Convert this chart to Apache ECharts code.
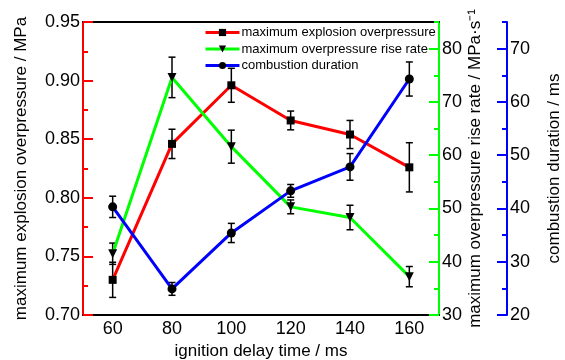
<!DOCTYPE html>
<html><head><meta charset="utf-8">
<script src="https://cdn.jsdelivr.net/npm/echarts@6/dist/echarts.min.js"></script>
<style>html,body{margin:0;padding:0;background:#fff}#c{width:565px;height:360px}</style>
</head><body><div id="c"></div>
<script>
const delays = ['60','80','100','120','140','160'];
const overpressure = [0.730, 0.846, 0.896, 0.866, 0.854, 0.826];
const overpressureErr = [0.015, 0.0125, 0.0145, 0.008, 0.012, 0.021];
const riseRate = [41.5, 74.6, 61.6, 50.3, 48.3, 37.2];
const riseRateErr = [2.0, 3.8, 3.1, 1.3, 2.3, 1.9];
const duration = [40.3, 24.9, 35.4, 43.3, 47.8, 64.3];
const durationErr = [2.0, 1.2, 1.8, 1.2, 2.5, 3.2];
const leftTicks = [0.70, 0.75, 0.80, 0.85, 0.90, 0.95];
const leftMinor = [0.725, 0.775, 0.825, 0.875, 0.925];
const rateTicks = [30, 40, 50, 60, 70, 80];
const rateMinor = [35, 45, 55, 65, 75, 85];
const durTicks = [20, 30, 40, 50, 60, 70];
const durMinor = [25, 35, 45, 55, 65, 75];

const FONT = "'Liberation Sans', Arial, sans-serif";
const RED = '#ff0000', GREEN = '#00ff00', BLUE = '#0000ff';

function errSeries(vals, errs, yIdx) {
  return {
    type: 'custom', yAxisIndex: yIdx, xAxisIndex: 0, z: 3, silent: true,
    data: vals.map((v, i) => [i, v - errs[i], v + errs[i]]),
    encode: { x: 0, y: [1, 2] },
    renderItem(params, api) {
      const lo = api.coord([api.value(0), api.value(1)]);
      const hi = api.coord([api.value(0), api.value(2)]);
      const w = 3.5;
      const st = { stroke: '#000', lineWidth: 1.5 };
      return { type: 'group', children: [
        { type: 'line', shape: { x1: lo[0], y1: lo[1], x2: hi[0], y2: hi[1] }, style: st },
        { type: 'line', shape: { x1: lo[0] - w, y1: lo[1], x2: lo[0] + w, y2: lo[1] }, style: st },
        { type: 'line', shape: { x1: hi[0] - w, y1: hi[1], x2: hi[0] + w, y2: hi[1] }, style: st }
      ]};
    }
  };
}

function mainY(color, min, max, ticks, pos, offset, name, nameGap, fmt) {
  return {
    type: 'value', position: pos, offset: offset, min: min, max: max,
    axisLine: { show: true, lineStyle: { color: color, width: 2 } },
    axisTick: { show: true, inside: true, length: 10, customValues: ticks, lineStyle: { color: color, width: 2 } },
    axisLabel: { show: true, customValues: ticks, color: '#000', fontSize: 18, fontFamily: FONT, margin: 3, formatter: fmt },
    splitLine: { show: false },
    name: name, nameLocation: 'middle', nameGap: nameGap, nameRotate: 90, nameMoveOverlap: false,
    nameTextStyle: { fontSize: 17, color: '#000', fontFamily: FONT }
  };
}
function minorY(color, min, max, ticks, pos, offset) {
  return {
    type: 'value', position: pos, offset: offset, min: min, max: max,
    axisLine: { show: false },
    axisTick: { show: true, inside: true, length: 5, customValues: ticks, lineStyle: { color: color, width: 2 } },
    axisLabel: { show: false },
    splitLine: { show: false }
  };
}

const chart = echarts.init(document.getElementById('c'));
chart.setOption({
  animation: false,
  backgroundColor: '#fff',
  textStyle: { fontFamily: FONT },
  grid: { left: 83, right: 126, top: 22, bottom: 45, containLabel: false, outerBoundsMode: 'none' },
  legend: {
    orient: 'vertical', left: 204, top: 26, padding: 0,
    itemWidth: 34, itemHeight: 9, itemGap: 3.5,
    lineStyle: { width: 3 },
    textStyle: { fontSize: 13, color: '#000', fontFamily: FONT, lineHeight: 13, padding: [0, 0, 0, -3] },
    data: ['maximum explosion overpressure', 'maximum overpressure rise rate', 'combustion duration']
  },
  xAxis: [
    {
      type: 'category', data: delays, boundaryGap: true, position: 'bottom',
      axisLine: { lineStyle: { color: '#000', width: 2 } },
      axisTick: { inside: true, length: 10, alignWithLabel: true, lineStyle: { color: '#000', width: 2 } },
      axisLabel: { color: '#000', fontSize: 18, fontFamily: FONT, margin: 5 },
      name: 'ignition delay time / ms', nameLocation: 'middle', nameGap: 27,
      nameTextStyle: { fontSize: 17, color: '#000', fontFamily: FONT }
    },
    {
      type: 'category', data: delays, boundaryGap: true, position: 'top',
      axisLine: { lineStyle: { color: '#000', width: 2 } },
      axisTick: { show: false }, axisLabel: { show: false }
    }
  ],
  yAxis: [
    mainY(RED, 0.70, 0.95, leftTicks, 'left', 0, 'maximum explosion overpressure / MPa', 53, v => v.toFixed(2)),
    mainY(GREEN, 30, 85, rateTicks, 'right', 0, 'maximum overpressure rise rate / MPa·s⁻¹', 28, v => String(v)),
    mainY(BLUE, 20, 75, durTicks, 'right', 68, 'combustion duration / ms', 39, v => String(v)),
    minorY(RED, 0.70, 0.95, leftMinor, 'left', 0),
    minorY(GREEN, 30, 85, rateMinor, 'right', 0),
    minorY(BLUE, 20, 75, durMinor, 'right', 68)
  ],
  series: [
    errSeries(overpressure, overpressureErr, 0),
    errSeries(riseRate, riseRateErr, 1),
    errSeries(duration, durationErr, 2),
    {
      type: 'line', name: 'maximum explosion overpressure', data: overpressure, yAxisIndex: 0,
      symbol: 'rect', symbolSize: 8, z: 4,
      lineStyle: { color: RED, width: 3 }, itemStyle: { color: '#000' }
    },
    {
      type: 'line', name: 'maximum overpressure rise rate', data: riseRate, yAxisIndex: 1,
      symbol: 'triangle', symbolRotate: 180, symbolSize: 9, z: 4,
      lineStyle: { color: GREEN, width: 3 }, itemStyle: { color: '#000' }
    },
    {
      type: 'line', name: 'combustion duration', data: duration, yAxisIndex: 2,
      symbol: 'circle', symbolSize: 9, z: 4,
      lineStyle: { color: BLUE, width: 3 }, itemStyle: { color: '#000' }
    }
  ]
});
</script></body></html>
